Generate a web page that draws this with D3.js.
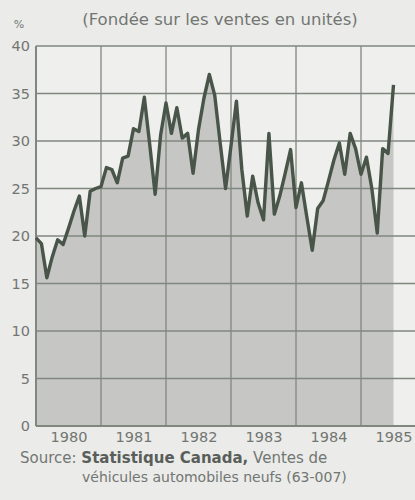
<!DOCTYPE html>
<html>
<head>
<meta charset="utf-8">
<script src="https://cdn.jsdelivr.net/npm/d3@7/dist/d3.min.js"></script>
<style>
  html, body { margin: 0; padding: 0; background: #ebebe9; }
  svg { display: block; }
</style>
</head>
<body>
<svg id="chart" width="415" height="500"></svg>
<script>
// Monthly share (%) Jan 1980 – Jul 1985
const yearLabels = ["1980", "1981", "1982", "1983", "1984", "1985"];
const v1980 = [19.8, 19.2, 15.6, 17.8, 19.6, 19.1, 20.8, 22.6, 24.2, 20.0, 24.7, 25.0];
const v1981 = [25.2, 27.2, 27.0, 25.6, 28.2, 28.4, 31.3, 31.0, 34.6, 29.6, 24.4, 30.6];
const v1982 = [34.0, 30.8, 33.5, 30.3, 30.8, 26.6, 31.2, 34.5, 37.0, 34.8, 29.8, 25.0];
const v1983 = [29.5, 34.2, 27.0, 22.1, 26.3, 23.5, 21.7, 30.8, 22.3, 24.2, 26.6, 29.1];
const v1984 = [23.0, 25.6, 22.0, 18.5, 22.9, 23.7, 25.8, 28.0, 29.8, 26.5, 30.8, 29.2];
const v1985 = [26.5, 28.3, 25.0, 20.3, 29.2, 28.7, 35.9];
const yTicks = [0, 5, 10, 15, 20, 25, 30, 35, 40];

const values = [].concat(v1980, v1981, v1982, v1983, v1984, v1985);

const svg = d3.select("#chart");
const mLeft = 36, mRight = 415, mTop = 46, mBottom = 426;

const x = d3.scaleLinear().domain([0, 72]).range([mLeft, 426]);
const y = d3.scaleLinear().domain([0, 40]).range([mBottom, mTop]);

// plot background
svg.append("rect").attr("x", mLeft).attr("y", mTop)
  .attr("width", mRight - mLeft).attr("height", mBottom - mTop)
  .attr("fill", "#efefed");

// area
const area = d3.area()
  .x((d, i) => x(i)).y0(y(0)).y1(d => y(d));
svg.append("path").datum(values).attr("d", area).attr("fill", "#c6c6c4");

// grid
const gridColor = "#80877f";
svg.append("g").selectAll("line").data(yTicks).join("line")
  .attr("x1", mLeft).attr("x2", mRight)
  .attr("y1", d => y(d)).attr("y2", d => y(d))
  .attr("stroke", gridColor).attr("stroke-width", d => d === 0 ? 2 : 1.3);

const yearBounds = d3.range(0, 6).map(k => k * 12);
svg.append("g").selectAll("line").data(yearBounds).join("line")
  .attr("x1", d => x(d)).attr("x2", d => x(d))
  .attr("y1", mTop).attr("y2", mBottom)
  .attr("stroke", gridColor).attr("stroke-width", d => d === 0 ? 2 : 1.3);

// line
const line = d3.line().x((d, i) => x(i)).y(d => y(d));
svg.append("path").datum(values).attr("d", line)
  .attr("fill", "none").attr("stroke", "#485548")
  .attr("stroke-width", 3.4).attr("stroke-linejoin", "round");

// y axis labels
const font = "DejaVu Sans, Liberation Sans, sans-serif";
const textColor = "#727672";
const yAxis = d3.axisLeft(y).tickValues(yTicks).tickSize(0).tickPadding(6);
const yg = svg.append("g").attr("transform", `translate(${mLeft},0)`).call(yAxis);
yg.select(".domain").remove();
yg.selectAll("text").attr("font-family", font).attr("font-size", 14.5)
  .attr("fill", textColor);

// x axis labels (centered on each year)
const xAxis = d3.axisBottom(x).tickValues(yearLabels.map((d, i) => i * 12 + 6))
  .tickFormat((d, i) => yearLabels[i]).tickSize(0).tickPadding(6);
const xg = svg.append("g").attr("transform", `translate(0,${mBottom})`).call(xAxis);
xg.select(".domain").remove();
xg.selectAll("text").attr("font-family", font).attr("font-size", 14.5)
  .attr("fill", textColor);

// % unit
svg.append("text").attr("x", 19).attr("y", 28).attr("text-anchor", "middle")
  .attr("font-family", font).attr("font-size", 11).attr("fill", textColor).text("%");

// title
svg.append("text").attr("x", 220).attr("y", 25).attr("text-anchor", "middle")
  .attr("font-family", font).attr("font-size", 16.5).attr("fill", textColor)
  .text("(Fondée sur les ventes en unités)");

// source
const src = svg.append("text").attr("x", 20).attr("y", 463)
  .attr("font-family", font).attr("font-size", 15).attr("fill", textColor);
src.append("tspan").text("Source: ");
src.append("tspan").attr("font-weight", "bold").attr("fill", "#5a5e5a").text("Statistique Canada,");
src.append("tspan").text(" Ventes de");
svg.append("text").attr("x", 82).attr("y", 482)
  .attr("font-family", font).attr("font-size", 14).attr("fill", textColor)
  .text("véhicules automobiles neufs (63-007)");
</script>
</body>
</html>
